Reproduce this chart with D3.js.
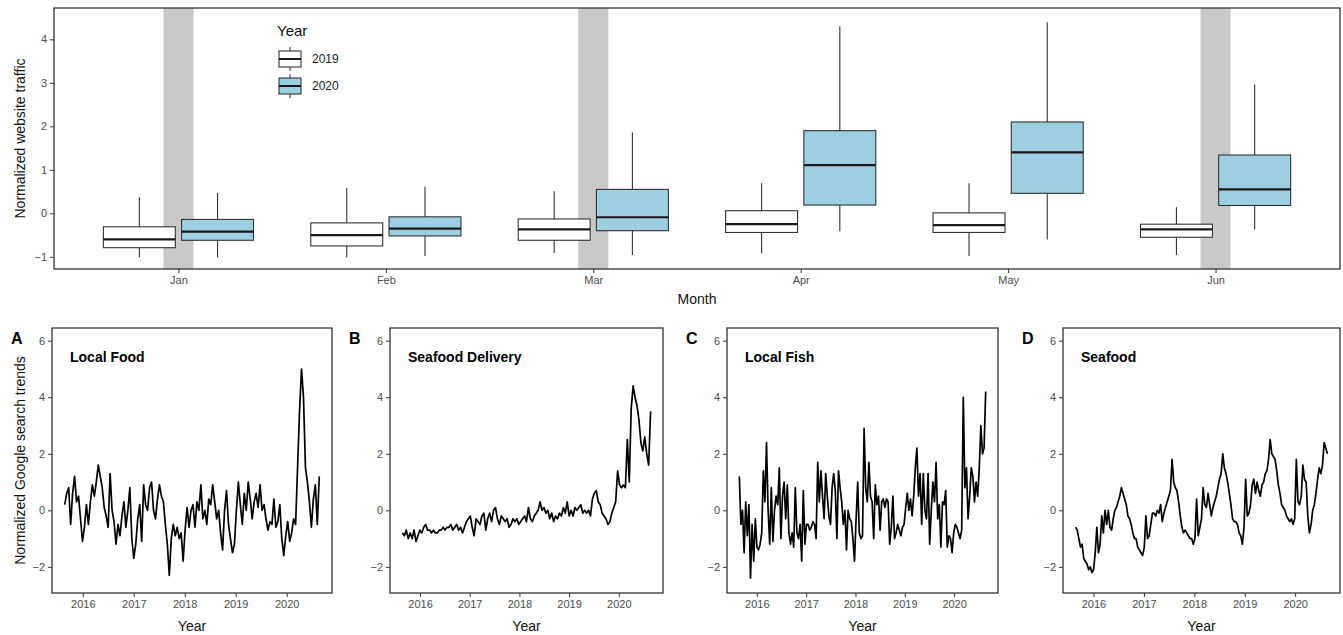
<!DOCTYPE html>
<html>
<head>
<meta charset="utf-8">
<script src="https://cdn.jsdelivr.net/npm/d3@7"></script>
<style>
  body { margin: 0; background: #fff; }
  text { font-family: "Liberation Sans", Arial, sans-serif; }
</style>
</head>
<body>
<svg width="1343" height="635"></svg>
<script>
// ---- top panel data: website traffic by month ----
const months = ["Jan", "Feb", "Mar", "Apr", "May", "Jun"];
const years = ["2019", "2020"];
const shadedMonths = ["Jan", "Mar", "Jun"];
const trafficTicks = [-1, 0, 1, 2, 3, 4];
// [lower whisker, q1, median, q3, upper whisker]
const box2019 = [
  [-1.01, -0.79, -0.60, -0.31, 0.37],
  [-1.01, -0.75, -0.50, -0.22, 0.58],
  [-0.91, -0.62, -0.37, -0.13, 0.51],
  [-0.92, -0.44, -0.25, 0.06, 0.69],
  [-0.98, -0.44, -0.27, 0.01, 0.69],
  [-0.96, -0.55, -0.37, -0.25, 0.14]
];
const box2020 = [
  [-1.01, -0.62, -0.42, -0.14, 0.47],
  [-0.98, -0.52, -0.35, -0.08, 0.61],
  [-0.96, -0.40, -0.09, 0.55, 1.86],
  [-0.41, 0.19, 1.11, 1.90, 4.30],
  [-0.60, 0.46, 1.40, 2.10, 4.39],
  [-0.37, 0.18, 0.55, 1.34, 2.96]
];

// ---- bottom panels: normalized Google search trends ----
const panelLetters = ["A", "B", "C", "D"];
const searchTerms = ["Local Food", "Seafood Delivery", "Local Fish", "Seafood"];
const yearTicks = [2016, 2017, 2018, 2019, 2020];
const trendTicks = [-2, 0, 2, 4, 6];
const dateSpan = [2015.645, 2020.64];

const localFood = [0.2,0.6,0.8,-0.5,0.6,1.2,0.3,0.5,-0.3,-1.1,
  -0.6,0.2,-0.5,0.3,0.9,0.5,1.0,1.6,1.2,0.8,
  0.1,-0.2,-0.6,1.3,0.0,-0.4,-1.2,-0.5,-0.9,-0.2,
  0.3,-0.6,0.0,0.8,-1.0,-1.7,-1.2,-0.3,0.2,-1.1,
  0.9,0.2,0.0,0.8,1.0,0.0,-0.3,0.4,0.9,0.5,
  0.3,-0.5,-1.2,-2.3,-1.0,-0.5,-0.9,-0.6,-1.0,-0.8,
  -1.8,-0.7,0.1,-0.6,0.0,0.2,-0.6,0.3,0.0,0.9,
  -0.3,0.0,-0.5,0.4,0.2,0.9,0.3,-0.3,0.0,-0.8,
  -1.4,0.0,0.7,-0.5,-1.0,-1.5,-1.2,0.0,1.0,0.2,
  -0.5,0.6,0.0,1.0,0.4,-0.3,0.3,0.6,0.1,0.9,
  0.0,0.2,-0.3,-0.7,-0.4,-0.5,0.4,-0.6,-0.4,0.2,
  -1.0,-1.6,-0.9,-0.4,-1.1,-0.8,-0.3,-0.5,1.5,3.5,
  5.0,4.0,1.5,1.0,0.3,-0.6,0.4,0.9,-0.5,1.2];

const seafoodDelivery = [-0.8,-0.9,-0.7,-1.0,-0.8,-1.0,-0.7,-1.1,-0.9,-0.7,
  -0.8,-0.6,-0.5,-0.7,-0.7,-0.8,-0.7,-0.8,-0.8,-0.7,
  -0.7,-0.6,-0.7,-0.6,-0.6,-0.5,-0.7,-0.6,-0.5,-0.7,
  -0.6,-0.8,-0.6,-0.4,-0.3,-0.2,-0.6,-0.9,-0.3,-0.4,
  -0.5,-0.2,-0.1,-0.7,-0.3,-0.1,-0.4,0.0,0.1,-0.3,
  -0.5,-0.2,-0.3,-0.4,-0.3,-0.6,-0.5,-0.3,-0.4,-0.3,
  -0.5,-0.4,-0.3,-0.2,-0.4,0.1,-0.3,-0.4,-0.2,-0.1,
  0.0,0.3,0.0,0.1,-0.1,0.0,-0.3,-0.1,-0.4,-0.2,
  -0.3,-0.1,-0.2,0.1,-0.1,0.3,-0.2,0.0,-0.2,0.1,
  0.0,0.1,0.2,-0.1,0.0,-0.1,0.0,-0.2,0.4,0.6,
  0.7,0.3,0.2,-0.1,-0.2,-0.3,-0.5,-0.4,-0.1,0.1,
  0.3,1.4,0.9,0.8,0.9,0.8,2.5,1.0,3.6,4.4,
  4.0,3.7,3.2,2.4,2.1,2.6,2.0,1.6,3.5];

const localFish = [1.2,-0.5,0.0,-1.5,0.3,-0.9,0.2,-2.4,-0.5,-1.8,
  -0.3,-1.3,-1.4,-1.2,-0.8,1.4,0.3,2.4,0.0,-1.2,
  0.8,-1.1,0.0,0.5,0.2,1.5,-1.0,0.5,1.0,-0.3,
  0.9,-0.8,-1.2,-0.8,-1.3,0.8,-0.8,-1.0,-0.5,-1.8,
  0.7,-1.2,-0.5,-0.5,-0.7,-0.6,-0.4,-0.5,-1.0,1.7,
  0.3,1.4,0.5,-0.3,1.3,0.5,-0.2,-0.5,0.8,1.3,
  0.7,-1.0,1.4,0.8,0.3,-0.5,0.0,-1.4,0.0,-0.3,
  -0.4,-1.0,-1.8,-0.3,1.0,-0.8,-1.0,-0.9,2.9,0.8,
  0.3,1.7,0.5,0.3,-1.0,0.9,0.2,0.5,-0.7,0.3,
  0.4,0.1,0.4,0.3,-1.2,-0.6,0.5,-1.0,-0.8,-0.5,
  -0.7,-0.9,-0.6,-0.5,0.1,0.6,0.0,0.4,-0.2,0.5,
  1.5,2.2,0.5,1.3,-0.5,1.3,0.0,-0.3,1.3,-1.2,
  0.0,1.0,0.3,1.7,-0.3,0.2,-1.3,0.3,0.2,0.7,
  -1.3,-0.9,-1.0,-1.5,-0.8,-0.5,-0.6,-0.8,-1.0,-0.7,
  4.0,0.8,1.5,-0.3,0.5,1.5,1.2,0.3,1.0,0.5,
  1.5,3.0,2.0,2.2,4.2];

const seafood = [-0.6,-0.7,-1.0,-1.3,-1.2,-1.7,-1.8,-1.9,-2.1,-2.0,
  -2.2,-2.1,-1.5,-0.6,-1.5,-1.2,-0.2,-0.8,0.0,-0.5,
  0.0,-0.6,-0.7,-0.3,0.0,0.1,0.3,0.5,0.8,0.6,
  0.4,0.2,-0.2,-0.3,-0.5,-0.8,-1.0,-1.0,-1.3,-1.4,
  -1.5,-1.6,-1.3,-0.2,-1.0,-0.9,-0.5,-0.1,-0.1,-0.2,
  0.0,-0.1,0.2,-0.4,-0.1,0.1,0.3,0.5,0.7,1.8,
  1.0,0.8,0.7,0.3,-0.2,-0.6,-0.8,-0.7,-0.8,-0.9,
  -1.0,-1.0,-1.2,-1.0,0.4,-0.9,-0.6,-0.3,0.8,0.2,
  0.1,0.6,0.2,-0.2,0.1,0.3,0.5,0.8,1.1,1.3,
  2.0,1.5,1.3,1.0,0.6,0.2,-0.3,-0.4,-0.4,-0.5,
  -0.8,-0.9,-1.2,-0.6,1.1,-0.2,-0.1,0.2,0.9,1.1,
  0.6,1.0,0.7,0.5,0.9,1.0,1.3,1.4,1.8,2.5,
  2.0,1.9,1.8,1.4,0.9,0.6,0.2,0.1,0.0,-0.2,
  -0.3,-0.4,-0.3,-0.5,-0.3,1.8,0.3,0.2,0.5,1.6,
  1.1,1.0,-0.2,-0.8,-0.5,0.0,0.2,0.6,1.1,1.5,
  1.3,1.6,2.4,2.2,2.0];

const seriesList = [localFood, seafoodDelivery, localFish, seafood];

// ---- drawing ----
const svg = d3.select('svg');
svg.append('rect').attr('width', 1343).attr('height', 635).attr('fill', '#fff');

const tickGrey = '#4d4d4d';
const frame = '#333';

function styleAxis(g) {
  g.attr('font-family', '"Liberation Sans", Arial, sans-serif').attr('font-size', 11);
  g.select('.domain').remove();
  g.selectAll('.tick line').attr('stroke', frame);
  g.selectAll('.tick text').attr('fill', tickGrey);
}

// top panel
const topBox = {left: 54, right: 1340, top: 8, bottom: 269};
const x = d3.scalePoint().domain(months).range([topBox.left, topBox.right]).padding(0.6);
const step = x.step();
const dodge = d3.scaleBand().domain(years).range([-0.362 * step, 0.362 * step]).paddingInner(0.08);
const y = d3.scaleLinear().domain([-1.28, 4.72]).range([topBox.bottom, topBox.top]);
const fill = d3.scaleOrdinal().domain(years).range(['#ffffff', '#9ecfe0']);

const gTop = svg.append('g');

gTop.selectAll('.shade')
  .data(shadedMonths)
  .enter()
  .append('rect')
  .attr('x', d => x(d) - 0.0725 * step)
  .attr('width', 0.145 * step)
  .attr('y', topBox.top)
  .attr('height', topBox.bottom - topBox.top)
  .attr('fill', '#c9c9c9');

const boxData = months.flatMap((m, i) => years.map(yr => {
  const v = yr === '2019' ? box2019[i] : box2020[i];
  return {month: m, year: yr, low: v[0], q1: v[1], med: v[2], q3: v[3], high: v[4]};
}));

const bw = dodge.bandwidth();
const boxes = gTop.selectAll('.box')
  .data(boxData)
  .enter()
  .append('g')
  .attr('class', 'box')
  .attr('transform', d => `translate(${x(d.month) + dodge(d.year)},0)`);

boxes.append('line')
  .attr('x1', bw / 2).attr('x2', bw / 2)
  .attr('y1', d => y(d.low)).attr('y2', d => y(d.high))
  .attr('stroke', frame).attr('stroke-width', 1.1);

boxes.append('rect')
  .attr('x', 0).attr('width', bw)
  .attr('y', d => y(d.q3)).attr('height', d => y(d.q1) - y(d.q3))
  .attr('fill', d => fill(d.year))
  .attr('stroke', frame).attr('stroke-width', 1.1);

boxes.append('line')
  .attr('x1', 0).attr('x2', bw)
  .attr('y1', d => y(d.med)).attr('y2', d => y(d.med))
  .attr('stroke', '#1a1a1a').attr('stroke-width', 2.2);

gTop.append('g')
  .attr('transform', `translate(${topBox.left},0)`)
  .call(d3.axisLeft(y).tickValues(trafficTicks).tickFormat(d3.format('d')).tickSize(4).tickPadding(3))
  .call(styleAxis);

gTop.append('g')
  .attr('transform', `translate(0,${topBox.bottom})`)
  .call(d3.axisBottom(x).tickSize(4).tickPadding(3))
  .call(styleAxis);

gTop.append('rect')
  .attr('x', topBox.left).attr('y', topBox.top)
  .attr('width', topBox.right - topBox.left).attr('height', topBox.bottom - topBox.top)
  .attr('fill', 'none').attr('stroke', frame).attr('stroke-width', 1.3);

gTop.append('text')
  .attr('x', (topBox.left + topBox.right) / 2).attr('y', 304)
  .attr('text-anchor', 'middle').attr('font-size', 14).attr('fill', '#111')
  .text('Month');

gTop.append('text')
  .attr('transform', `translate(20,${(topBox.top + topBox.bottom) / 2}) rotate(-90)`)
  .attr('text-anchor', 'middle').attr('dominant-baseline', 'central')
  .attr('font-size', 14).attr('fill', '#111')
  .text('Normalized website traffic');

// legend
const legend = gTop.append('g').attr('transform', 'translate(277,0)');
legend.append('text').attr('x', 0).attr('y', 36).attr('font-size', 15).attr('fill', '#111').text('Year');
const keys = legend.selectAll('.key')
  .data(years)
  .enter()
  .append('g')
  .attr('transform', (d, i) => `translate(2,${47 + i * 27})`);
keys.append('line').attr('x1', 11).attr('x2', 11).attr('y1', 0).attr('y2', 24)
  .attr('stroke', frame);
keys.append('rect').attr('x', 0).attr('y', 4).attr('width', 22).attr('height', 16)
  .attr('fill', d => fill(d)).attr('stroke', frame).attr('stroke-width', 1.1);
keys.append('line').attr('x1', 0).attr('x2', 22).attr('y1', 12).attr('y2', 12)
  .attr('stroke', '#1a1a1a').attr('stroke-width', 2);
keys.append('text').attr('x', 33).attr('y', 16).attr('font-size', 12).attr('fill', '#222')
  .text(d => d);

// bottom panels
const panelX = [[52, 332], [390, 663], [727, 998], [1063, 1340]];
const panelTop = 328, panelBottom = 593;
const yTrend = d3.scaleLinear().domain([-2.925, 6.45]).range([panelBottom, panelTop]);
const pad = 0.05 * (dateSpan[1] - dateSpan[0]);

seriesList.forEach((values, p) => {
  const [x0, x1] = panelX[p];
  const xYear = d3.scaleLinear().domain([dateSpan[0] - pad, dateSpan[1] + pad]).range([x0, x1]);
  const dateAt = i => dateSpan[0] + i * (dateSpan[1] - dateSpan[0]) / (values.length - 1);
  const g = svg.append('g');

  const line = d3.line()
    .x((d, i) => xYear(dateAt(i)))
    .y(d => yTrend(d));

  g.append('path')
    .datum(values)
    .attr('d', line)
    .attr('fill', 'none')
    .attr('stroke', '#000')
    .attr('stroke-width', 1.7)
    .attr('stroke-linejoin', 'round');

  g.append('g')
    .attr('transform', `translate(${x0},0)`)
    .call(d3.axisLeft(yTrend).tickValues(trendTicks).tickSize(4).tickPadding(3))
    .call(styleAxis);

  g.append('g')
    .attr('transform', `translate(0,${panelBottom})`)
    .call(d3.axisBottom(xYear).tickValues(yearTicks).tickFormat(d3.format('d')).tickSize(4).tickPadding(3))
    .call(styleAxis);

  g.append('rect')
    .attr('x', x0).attr('y', panelTop)
    .attr('width', x1 - x0).attr('height', panelBottom - panelTop)
    .attr('fill', 'none').attr('stroke', frame).attr('stroke-width', 1.3);

  g.append('text')
    .attr('x', x0 + 18).attr('y', 362)
    .attr('font-size', 14).attr('font-weight', 'bold').attr('fill', '#000')
    .text(searchTerms[p]);

  g.append('text')
    .attr('x', x0 - 41).attr('y', 344)
    .attr('font-size', 16).attr('font-weight', 'bold').attr('fill', '#000')
    .text(panelLetters[p]);

  g.append('text')
    .attr('x', (x0 + x1) / 2).attr('y', 631)
    .attr('text-anchor', 'middle').attr('font-size', 14).attr('fill', '#111')
    .text('Year');
});

svg.append('text')
  .attr('transform', `translate(20,${(panelTop + panelBottom) / 2}) rotate(-90)`)
  .attr('text-anchor', 'middle').attr('dominant-baseline', 'central')
  .attr('font-size', 14).attr('fill', '#111')
  .text('Normalized Google search trends');
</script>
</body>
</html>
